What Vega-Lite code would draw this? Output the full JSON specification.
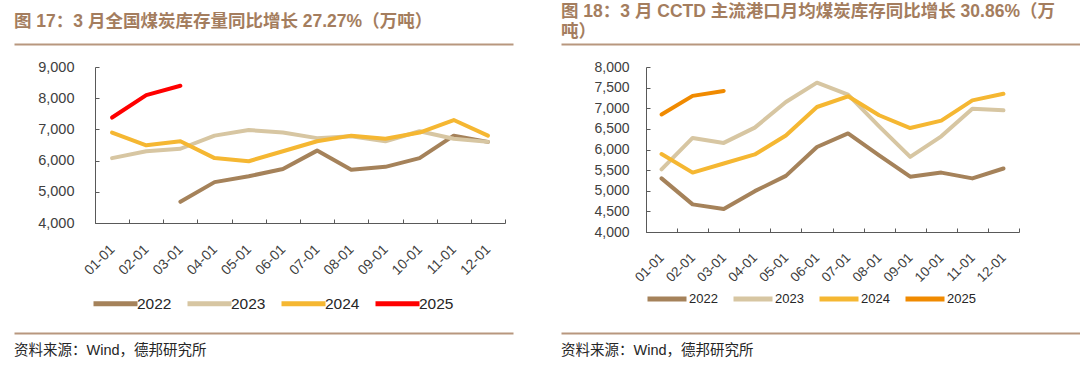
{
  "$schema": "https://vega.github.io/schema/vega-lite/v6.json",
  "background": "white",
  "padding": {"left": 9, "top": 2, "right": 0, "bottom": 5},
  "autosize": {"type": "pad"},
  "bounds": "flush",
  "columns": 2,
  "spacing": {"row": 23, "column": 48},
  "config": {
    "view": {"stroke": null},
    "font": "Liberation Sans, Noto Sans CJK SC",
    "axis": {"grid": false}
  },
  "resolve": {
    "scale": {"x": "independent", "y": "independent", "color": "independent"},
    "legend": {"color": "independent"},
    "axis": {"x": "independent", "y": "independent"}
  },
  "datasets": {
    "blank": [{"v": 0}],
    "national": [
      {"year": "2022", "month": "03-01", "value": 4680},
      {"year": "2022", "month": "04-01", "value": 5310},
      {"year": "2022", "month": "05-01", "value": 5500},
      {"year": "2022", "month": "06-01", "value": 5730},
      {"year": "2022", "month": "07-01", "value": 6320},
      {"year": "2022", "month": "08-01", "value": 5710},
      {"year": "2022", "month": "09-01", "value": 5800},
      {"year": "2022", "month": "10-01", "value": 6080},
      {"year": "2022", "month": "11-01", "value": 6800},
      {"year": "2022", "month": "12-01", "value": 6600},
      {"year": "2023", "month": "01-01", "value": 6080},
      {"year": "2023", "month": "02-01", "value": 6300},
      {"year": "2023", "month": "03-01", "value": 6380},
      {"year": "2023", "month": "04-01", "value": 6800},
      {"year": "2023", "month": "05-01", "value": 6980},
      {"year": "2023", "month": "06-01", "value": 6900},
      {"year": "2023", "month": "07-01", "value": 6720},
      {"year": "2023", "month": "08-01", "value": 6780},
      {"year": "2023", "month": "09-01", "value": 6620},
      {"year": "2023", "month": "10-01", "value": 6940},
      {"year": "2023", "month": "11-01", "value": 6700},
      {"year": "2023", "month": "12-01", "value": 6600},
      {"year": "2024", "month": "01-01", "value": 6900},
      {"year": "2024", "month": "02-01", "value": 6490},
      {"year": "2024", "month": "03-01", "value": 6620},
      {"year": "2024", "month": "04-01", "value": 6080},
      {"year": "2024", "month": "05-01", "value": 5980},
      {"year": "2024", "month": "06-01", "value": 6300},
      {"year": "2024", "month": "07-01", "value": 6620},
      {"year": "2024", "month": "08-01", "value": 6800},
      {"year": "2024", "month": "09-01", "value": 6700},
      {"year": "2024", "month": "10-01", "value": 6900},
      {"year": "2024", "month": "11-01", "value": 7300},
      {"year": "2024", "month": "12-01", "value": 6800},
      {"year": "2025", "month": "01-01", "value": 7380},
      {"year": "2025", "month": "02-01", "value": 8100},
      {"year": "2025", "month": "03-01", "value": 8400}
    ],
    "port": [
      {"year": "2022", "month": "01-01", "value": 5300},
      {"year": "2022", "month": "02-01", "value": 4670},
      {"year": "2022", "month": "03-01", "value": 4560},
      {"year": "2022", "month": "04-01", "value": 4990},
      {"year": "2022", "month": "05-01", "value": 5360},
      {"year": "2022", "month": "06-01", "value": 6060},
      {"year": "2022", "month": "07-01", "value": 6390},
      {"year": "2022", "month": "08-01", "value": 5860},
      {"year": "2022", "month": "09-01", "value": 5340},
      {"year": "2022", "month": "10-01", "value": 5440},
      {"year": "2022", "month": "11-01", "value": 5300},
      {"year": "2022", "month": "12-01", "value": 5540},
      {"year": "2023", "month": "01-01", "value": 5520},
      {"year": "2023", "month": "02-01", "value": 6280},
      {"year": "2023", "month": "03-01", "value": 6160},
      {"year": "2023", "month": "04-01", "value": 6530},
      {"year": "2023", "month": "05-01", "value": 7150},
      {"year": "2023", "month": "06-01", "value": 7620},
      {"year": "2023", "month": "07-01", "value": 7330},
      {"year": "2023", "month": "08-01", "value": 6560},
      {"year": "2023", "month": "09-01", "value": 5820},
      {"year": "2023", "month": "10-01", "value": 6320},
      {"year": "2023", "month": "11-01", "value": 6990},
      {"year": "2023", "month": "12-01", "value": 6950},
      {"year": "2024", "month": "01-01", "value": 5890},
      {"year": "2024", "month": "02-01", "value": 5440},
      {"year": "2024", "month": "03-01", "value": 5660},
      {"year": "2024", "month": "04-01", "value": 5880},
      {"year": "2024", "month": "05-01", "value": 6340},
      {"year": "2024", "month": "06-01", "value": 7030},
      {"year": "2024", "month": "07-01", "value": 7290},
      {"year": "2024", "month": "08-01", "value": 6830},
      {"year": "2024", "month": "09-01", "value": 6520},
      {"year": "2024", "month": "10-01", "value": 6700},
      {"year": "2024", "month": "11-01", "value": 7190},
      {"year": "2024", "month": "12-01", "value": 7350},
      {"year": "2025", "month": "01-01", "value": 6850},
      {"year": "2025", "month": "02-01", "value": 7300},
      {"year": "2025", "month": "03-01", "value": 7420}
    ]
  },
  "concat": [
    {
      "width": 499, "height": 1,
      "title": {"text": "图 17：3 月全国煤炭库存量同比增长 27.27%（万吨）", "anchor": "start", "orient": "top", "offset": 13, "fontSize": 17.5, "fontWeight": "bold", "color": "#a47d5e", "font": "Liberation Sans, Noto Sans CJK SC"},
      "data": {"name": "blank"},
      "mark": {"type": "point", "opacity": 0, "size": 1},
      "encoding": {
        "x": {"field": "v", "type": "quantitative", "scale": {"domain": [-1, 1]},
              "axis": {"orient": "bottom", "title": null, "labels": false, "ticks": false, "grid": false, "domainColor": "#b8977e", "domainWidth": 2}}
      }
    },
    {
      "width": 521, "height": 1,
      "title": {"text": ["图 18：3 月 CCTD 主流港口月均煤炭库存同比增长 30.86%（万", "吨）"], "anchor": "start", "orient": "top", "offset": 3, "lineHeight": 20, "fontSize": 17.5, "fontWeight": "bold", "color": "#a47d5e", "font": "Liberation Sans, Noto Sans CJK SC"},
      "data": {"name": "blank"},
      "mark": {"type": "point", "opacity": 0, "size": 1},
      "encoding": {
        "x": {"field": "v", "type": "quantitative", "scale": {"domain": [-1, 1]},
              "axis": {"orient": "bottom", "title": null, "labels": false, "ticks": false, "grid": false, "domainColor": "#b8977e", "domainWidth": 2}}
      }
    },
    {
      "width": 491, "height": 156,
      "data": {"name": "national"},
      "mark": {"type": "line", "strokeWidth": 4, "strokeCap": "round", "strokeJoin": "round"},
      "encoding": {
        "x": {"field": "month", "type": "ordinal",
              "scale": {"type": "band", "range": [81, 491], "paddingInner": 0, "paddingOuter": 0,
                        "domain": ["01-01","02-01","03-01","04-01","05-01","06-01","07-01","08-01","09-01","10-01","11-01","12-01"]},
              "axis": {"title": null, "labelAngle": -45, "labelAlign": "right", "labelBaseline": "middle", "labelFontSize": 14, "labelColor": "#404040", "tickBand": "extent", "tickSize": -4, "tickColor": "#595959", "domainColor": "#595959", "labelPadding": 28, "grid": false}},
        "y": {"field": "value", "type": "quantitative",
              "scale": {"domain": [4000, 9000], "nice": false, "zero": false},
              "axis": {"title": null, "values": [4000, 5000, 6000, 7000, 8000, 9000], "format": ",.0f", "offset": -81, "tickSize": -4, "labelPadding": 25, "labelFontSize": 14.5, "labelColor": "#404040", "tickColor": "#595959", "domainColor": "#595959", "grid": false}},
        "color": {"field": "year", "type": "nominal",
                  "scale": {"domain": ["2022", "2023", "2024", "2025"], "range": ["#a5825a", "#d7c6a2", "#f5b732", "#ff0000"]},
                  "legend": {"orient": "none", "legendX": 77, "legendY": 212, "direction": "horizontal", "title": null, "symbolType": "stroke", "symbolSize": 1936, "symbolStrokeWidth": 5, "labelFontSize": 15.5, "labelColor": "#262626", "labelOffset": -3, "columnPadding": 5, "padding": 0}}
      }
    },
    {
      "width": 458, "height": 165,
      "data": {"name": "port"},
      "mark": {"type": "line", "strokeWidth": 4, "strokeCap": "round", "strokeJoin": "round"},
      "encoding": {
        "x": {"field": "month", "type": "ordinal",
              "scale": {"type": "band", "range": [85, 458], "paddingInner": 0, "paddingOuter": 0,
                        "domain": ["01-01","02-01","03-01","04-01","05-01","06-01","07-01","08-01","09-01","10-01","11-01","12-01"]},
              "axis": {"title": null, "labelAngle": -45, "labelAlign": "right", "labelBaseline": "middle", "labelFontSize": 13.5, "labelColor": "#404040", "tickBand": "extent", "tickSize": -4, "tickColor": "#595959", "domainColor": "#595959", "labelPadding": 27, "grid": false}},
        "y": {"field": "value", "type": "quantitative",
              "scale": {"domain": [4000, 8000], "nice": false, "zero": false},
              "axis": {"title": null, "values": [4000, 4500, 5000, 5500, 6000, 6500, 7000, 7500, 8000], "format": ",.0f", "offset": -85, "tickSize": -4, "labelPadding": 21, "labelFontSize": 14, "labelColor": "#404040", "tickColor": "#595959", "domainColor": "#595959", "grid": false}},
        "color": {"field": "year", "type": "nominal",
                  "scale": {"domain": ["2022", "2023", "2024", "2025"], "range": ["#a5825a", "#d7c6a2", "#f5b732", "#f08a00"]},
                  "legend": {"orient": "none", "legendX": 84, "legendY": 210, "direction": "horizontal", "title": null, "symbolType": "stroke", "symbolSize": 1521, "symbolStrokeWidth": 5, "labelFontSize": 13, "labelColor": "#262626", "labelOffset": 0, "columnPadding": 5, "padding": 0}}
      }
    },
    {
      "width": 499, "height": 78,
      "title": {"text": "资料来源：Wind，德邦研究所", "anchor": "start", "orient": "bottom", "offset": 11, "fontSize": 14.5, "fontWeight": "normal", "color": "#262626", "font": "Liberation Sans, Noto Sans CJK SC"},
      "data": {"name": "blank"},
      "mark": {"type": "point", "opacity": 0, "size": 1},
      "encoding": {
        "x": {"field": "v", "type": "quantitative", "scale": {"domain": [-1, 1]},
              "axis": {"orient": "bottom", "title": null, "labels": false, "ticks": false, "grid": false, "domainColor": "#b8977e", "domainWidth": 2}}
      }
    },
    {
      "width": 521, "height": 78,
      "title": {"text": "资料来源：Wind，德邦研究所", "anchor": "start", "orient": "bottom", "offset": 11, "fontSize": 14.5, "fontWeight": "normal", "color": "#262626", "font": "Liberation Sans, Noto Sans CJK SC"},
      "data": {"name": "blank"},
      "mark": {"type": "point", "opacity": 0, "size": 1},
      "encoding": {
        "x": {"field": "v", "type": "quantitative", "scale": {"domain": [-1, 1]},
              "axis": {"orient": "bottom", "title": null, "labels": false, "ticks": false, "grid": false, "domainColor": "#b8977e", "domainWidth": 2}}
      }
    }
  ]
}
